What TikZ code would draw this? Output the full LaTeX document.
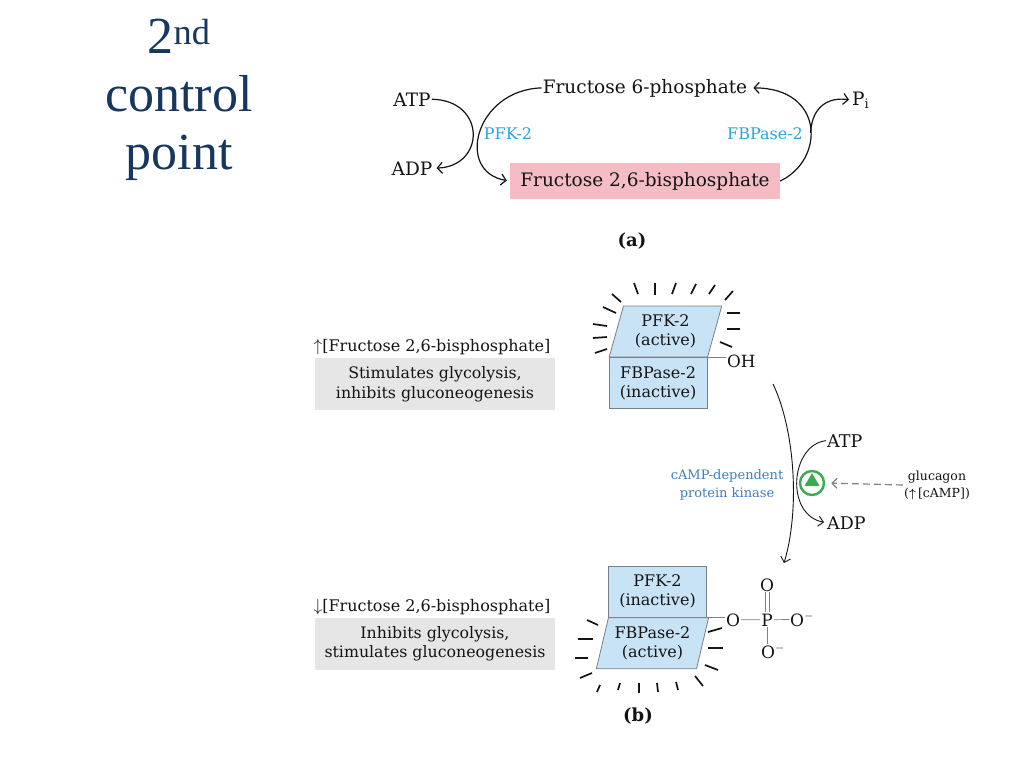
\documentclass[tikz,border=0pt]{standalone}
\usepackage{amsmath}
\usepackage{fontspec}
\usepackage{tikz}
\setmainfont{DejaVu Serif}
\newfontfamily\Titulo{Liberation Serif}
\newcommand{\Tam}[1]{\fontsize{#1}{#1}\selectfont}
\usetikzlibrary{shapes.geometric, arrows, arrows.meta}
\definecolor{azulTitulo}{RGB}{23,55,94}
\definecolor{cian}{RGB}{40,165,222}
\definecolor{azulK}{RGB}{62,125,190}
\definecolor{rosa}{RGB}{245,188,195}
\definecolor{celeste}{RGB}{200,226,246}
\definecolor{borde}{RGB}{120,128,138}
\definecolor{grisclaro}{RGB}{230,230,230}
\definecolor{verde}{RGB}{60,170,80}
\definecolor{tinta}{RGB}{20,20,20}
\tikzstyle{flecha} = [line width=1.2pt,->,>={Straight Barb[length=5pt,width=11pt]},draw=tinta]
\tikzstyle{flechafina} = [line width=0.9pt,->,>={Straight Barb[length=5pt,width=10pt]},draw=tinta]
\tikzstyle{flechagris} = [line width=1.2pt,->,>={Straight Barb[length=5pt,width=10pt]},
                          draw=gray, dash pattern=on 7pt off 4pt, shorten >=6pt]
\tikzstyle{texto} = [text=tinta, font=\Tam{18.5}, inner sep=1pt]
\tikzstyle{textob} = [text=tinta, font=\Tam{16}, inner sep=1pt]
\tikzstyle{enzima} = [text=cian, font=\Tam{16}, inner sep=1pt]
\tikzstyle{pinkbox} = [rectangle,
                       fill=rosa,
                       minimum width=270pt,
                       minimum height=36pt,
                       text=tinta,
                       font=\Tam{18.5}]
\tikzstyle{graybox} = [rectangle,
                       fill=grisclaro,
                       minimum width=240pt,
                       minimum height=52pt,
                       align=center,
                       text=tinta,
                       font={\fontsize{15.8}{19.5}\selectfont}]
\tikzstyle{caja} = [rectangle,
                    draw=borde,
                    line width=0.8pt,
                    fill=celeste,
                    minimum width=98pt,
                    minimum height=51pt,
                    align=center,
                    inner sep=0pt,
                    text=tinta,
                    font={\fontsize{16}{19.5}\selectfont}]
\tikzstyle{paralelo} = [trapezium,
                        trapezium stretches=true,
                        trapezium left angle=73,
                        trapezium right angle=107,
                        draw=borde,
                        line width=0.8pt,
                        fill=celeste,
                        minimum width=113pt,
                        minimum height=51pt,
                        align=center,
                        inner sep=0pt,
                        text=tinta,
                        font={\fontsize{16}{19.5}\selectfont}]
\tikzstyle{rayo} = [line width=1.7pt, draw=tinta]
\tikzstyle{enlace} = [line width=0.7pt, draw=gray]

\begin{document}
\begin{tikzpicture}[x=1pt, y=-1pt]
        \fill [white] (0,0) rectangle (1024,768);
        \useasboundingbox (0,0) rectangle (1024,768);

        \node (Titulo) [text=azulTitulo, align=center, inner sep=0pt,
                        font={\Titulo\fontsize{52}{58}\selectfont}] at (179,100)
              {2\textsuperscript{nd}\\control\\point};

        % (a)
        \node (ATP) [texto, anchor=base] at (412,106) {ATP};
        \node (ADP) [texto, anchor=base] at (412,175) {ADP};
        \node (F6P) [texto, anchor=base] at (645,93) {Fructose 6-phosphate};
        \node (Pi) [texto, anchor=base west] at (851,105) {P\textsubscript{i}};
        \node (F26BP) [pinkbox] at (645,181) {Fructose 2,6-bisphosphate};
        \node (PFKa) [enzima, anchor=base] at (508,139) {PFK-2};
        \node (FBPasea) [enzima, anchor=base] at (765,139) {FBPase-2};
        \node (EtqA) [text=tinta, font=\bfseries\Tam{18}, anchor=base] at (632,246) {(a)};

        \draw [flecha, shorten >=3pt] (ATP.east) .. controls (486,100) and (486,166) .. (ADP.east);
        \draw [flecha, shorten >=3pt] (F6P.west) .. controls (475,90) and (455,172) .. (F26BP.west);
        \draw [flecha, shorten >=5pt] (F26BP.east) .. controls (825,160) and (825,88)
              .. coordinate[pos=0.45] (rama) (F6P.east);
        \draw [flecha, shorten >=2pt] (rama) .. controls (812,105) and (830,97) .. (Pi.west);

        % (b)
        \node (PFKA) [paralelo] at (665.5,331.5) {PFK-2\\(active)};
        \node (FBPaseA) [caja, anchor=north west] at (PFKA.bottom left corner) {FBPase-2\\(inactive)};
        \node (OH) [textob, font=\Tam{16.8}, anchor=base west] at ([xshift=18pt]PFKA.bottom right corner |- 0,367) {OH};
        \draw [enlace] (PFKA.bottom right corner) -- (PFKA.bottom right corner -| OH.west);

        \node (PFKB) [caja] at (657.5,591.5) {PFK-2\\(inactive)};
        \node (FBPaseB) [paralelo, anchor=top left corner] at (PFKB.south west) {FBPase-2\\(active)};

        \node (O1) [textob, font=\Tam{17}, anchor=base] at (733,626) {O};
        \node (P) [textob, font=\Tam{17}, anchor=base] at (767,626) {P};
        \node (O2) [textob, font=\Tam{17}, anchor=base west] at (789,626) {O\textsuperscript{$-$}};
        \node (O3) [textob, font=\Tam{17}, anchor=base] at (767,591) {O};
        \node (O4) [textob, font=\Tam{17}, anchor=base west] at (760,658) {O\textsuperscript{$-$}};
        \draw [enlace] (PFKB.south east) -- (O1.west |- PFKB.south east);
        \draw [enlace] (O1) -- (P);
        \draw [enlace] (P) -- (O2.west);
        \draw [enlace] ([xshift=-2pt]P.north) -- ([xshift=-2pt]O3.south);
        \draw [enlace] ([xshift=2pt]P.north) -- ([xshift=2pt]O3.south);
        \draw [enlace] (P.south) -- (P.south |- O4.north);

        \foreach \xa/\ya/\xb/\yb in {612/294/621/302, 634/283/638/294, 655/283/655/295,
                                     676/283/672/294, 696/284/691/294, 715/285/709/294,
                                     733/291/725/300, 603/307/616/313, 593/324/607/326,
                                     593/338/607/337, 595/353/607/349, 727/313/740/313,
                                     727/329/740/329, 720/342/732/347}
            \draw [rayo] (\xa,\ya) -- (\xb,\yb);

        \foreach \xa/\ya/\xb/\yb in {587/620/598/625, 578/639/593/639, 575/658/588/658,
                                     580/678/592/673, 597/692/600/685, 618/690/620/683,
                                     639/693/639/683, 658/692/657/683, 678/690/676/682,
                                     703/686/695/676, 708/632/722/628, 708/648/723/648,
                                     705/665/718/670}
            \draw [rayo] (\xa,\ya) -- (\xb,\yb);

        \coordinate (arcIni) at (773,384);
        \coordinate (arcFin) at (784,563);
        \draw [flechafina] (arcIni) .. controls (795,430) and (800,510) .. (arcFin);

        \node (ATPb) [textob, font=\Tam{17.5}, anchor=base west] at (826,447) {ATP};
        \node (ADPb) [textob, font=\Tam{17.5}, anchor=base west] at (826,529) {ADP};
        \draw [flechafina, shorten >=2pt] (ATPb.west) .. controls (790,445) and (785,515) .. (ADPb.west);

        \node (PKA) [circle, draw=verde, line width=2.4pt, minimum size=24pt, inner sep=0pt] at (812,483) {};
        \node (PKAtri) [regular polygon, regular polygon sides=3, fill=verde,
                        minimum size=17pt, inner sep=0pt] at ([yshift=1.5pt]PKA.center) {};
        \node (Kinasa) [text=azulK, align=center, inner sep=1pt,
                        font={\fontsize{13}{18}\selectfont}] at (727,485)
              {cAMP-dependent\\protein kinase};
        \node (Glucagon) [text=tinta, align=center, inner sep=1pt,
                          font={\fontsize{12.5}{17}\selectfont}] at (937,485)
              {glucagon\\($\boldsymbol{\uparrow}$\,[cAMP])};
        \draw [flechagris] (Glucagon.west) -- (PKA.east);

        \node (SubeF) [textob, font=\Tam{16}, anchor=base] at (432,351) {$\uparrow$[Fructose 2,6-bisphosphate]};
        \node (Estimula) [graybox] at (435,384) {Stimulates glycolysis,\\inhibits gluconeogenesis};
        \node (BajaF) [textob, font=\Tam{16}, anchor=base] at (432,611) {$\downarrow$[Fructose 2,6-bisphosphate]};
        \node (Inhibe) [graybox] at (435,643.5) {Inhibits glycolysis,\\stimulates gluconeogenesis};

        \node (EtqB) [text=tinta, font=\bfseries\Tam{18}, anchor=base] at (638,721) {(b)};
    \end{tikzpicture}
\end{document}
